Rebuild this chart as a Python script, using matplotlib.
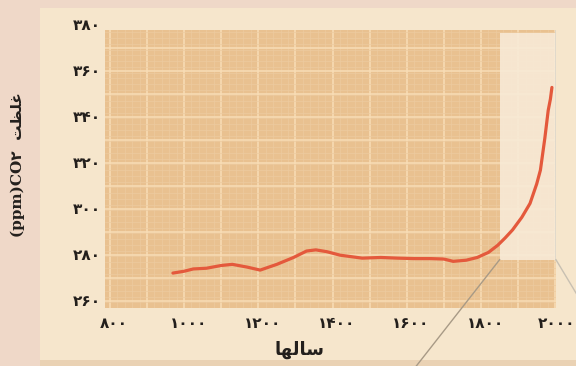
import numpy as np
import matplotlib
matplotlib.use("Agg")
import matplotlib.pyplot as plt
import matplotlib.transforms as mtransforms
from matplotlib.patches import Rectangle

# CO2 concentration (ppm) over the last millennium
years = [970, 1000, 1025, 1060, 1100, 1130, 1170, 1205, 1250, 1295, 1330, 1355,
         1385, 1420, 1480, 1530, 1575, 1620, 1665, 1700, 1725, 1760, 1790, 1820,
         1845, 1865, 1885, 1910, 1932, 1950, 1960, 1972, 1981, 1987, 1991]
ppm = [272.2, 273.0, 274.0, 274.3, 275.5, 276.0, 274.8, 273.5, 276.0, 279.0, 281.8, 282.3,
       281.5, 280.0, 278.7, 279.0, 278.7, 278.5, 278.5, 278.3, 277.3, 277.8, 279.0, 281.2,
       284.3, 287.5, 291.0, 296.5, 302.5, 311.0, 317.0, 331.0, 343.0, 348.0, 353.0]

x_ticks = [800, 1000, 1200, 1400, 1600, 1800, 2000]
y_ticks = [260, 280, 300, 320, 340, 360, 380]

# shaded "zoom" window over the industrial era and its callout lines
win_x = (1850, 2002)
win_y_low = 278
callout_left_end = (1624, 231.4)
callout_right_end = (2056, 263.5)

fa_digits = str.maketrans("0123456789", "۰۱۲۳۴۵۶۷۸۹")
def fa(n):
    return str(n).translate(fa_digits)

# Arabic presentation forms in visual (left-to-right) order
x_title = "\uFE8E\uFEEC\uFEDF\uFE8E\uFEB3"          # سالها
y_word = "\uFE96\uFEC8\uFEE0\uFECF"                  # غلظت

outer_bg = "#efd8c8"
panel_bg = "#f6e6cc"
orange = "#e9c190"
light = "#f8ebd8"
curve_col = "#e4593c"
ink = "#231f1c"

fig = plt.figure(figsize=(5.76, 3.66), dpi=100)
fig.patch.set_facecolor(outer_bg)
fig.patches.append(Rectangle((40 / 576, 0.0), 1 - 40 / 576, 1 - 8 / 366,
                             transform=fig.transFigure, facecolor=panel_bg,
                             edgecolor="none", zorder=-2))
fig.patches.append(Rectangle((40 / 576, 0.0), 1 - 40 / 576, 6 / 366,
                             transform=fig.transFigure, facecolor="#ead2b4",
                             edgecolor="none", zorder=-1))

ax = fig.add_axes([105 / 576, 1 - 308 / 366, 451 / 576, 278 / 366])
ax.set_facecolor(orange)

# grid
ax.set_xticks(np.arange(800, 2001, 100))
ax.set_yticks(np.arange(260, 381, 10))
ax.set_xticks(np.arange(800, 2001, 20), minor=True)
ax.set_yticks(np.arange(257, 380, 2.5), minor=True)
ax.grid(True, which="major", color="#f8ddb6", lw=1.1, zorder=1)
ax.grid(True, which="minor", color="#edcb9f", lw=0.5, zorder=1)
ax.set_axisbelow(True)
ax.set_xlim(787, 2002)
ax.set_ylim(257, 378)

# light window, drawn over the grid so that only a trace of it shows
ax.add_patch(Rectangle((win_x[0], win_y_low), win_x[1] - win_x[0], 376.5 - win_y_low,
                       facecolor=light, edgecolor="none", alpha=0.88, zorder=1.5))
ax.plot([win_x[1], win_x[1]], [win_y_low, 378], color="#dcd6ca", lw=1.2, zorder=1.6)

ax.plot([win_x[0], callout_left_end[0]], [win_y_low, callout_left_end[1]],
        color="#a89a86", lw=1.0, clip_on=False, zorder=2)
ax.plot([win_x[1], callout_right_end[0]], [win_y_low, callout_right_end[1]],
        color="#c8c0b2", lw=1.0, clip_on=False, zorder=2)

ax.plot(years, ppm, color=curve_col, lw=2.3, solid_capstyle="round",
        solid_joinstyle="round", zorder=3)

for s in ax.spines.values():
    s.set_visible(False)
ax.tick_params(which="both", length=0, labelleft=False, labelbottom=False)

# tick labels as text so the top value can sit just above the frame
lab_style = dict(fontsize=11, fontweight="bold", color=ink, clip_on=False)
ytrans = ax.get_yaxis_transform() + mtransforms.ScaledTranslation(-3 / 72, 0, fig.dpi_scale_trans)
for v in y_ticks:
    ax.text(0, v, fa(v), transform=ytrans, ha="right", va="center", **lab_style)
xtrans = ax.get_xaxis_transform() + mtransforms.ScaledTranslation(3 / 72, -6 / 72, fig.dpi_scale_trans)
for v in x_ticks[:-1]:
    ax.text(v, 0, fa(v), transform=xtrans, ha="center", va="top", **lab_style)
# last year label pinned against the right edge of the figure
ax.text(0.998, 0, fa(x_ticks[-1]),
        transform=mtransforms.blended_transform_factory(fig.transFigure, ax.transAxes)
        + mtransforms.ScaledTranslation(0, -6 / 72, fig.dpi_scale_trans),
        ha="right", va="top", **lab_style)

fig.text(300 / 576, 1 - 350 / 366, x_title, ha="center", va="center",
         fontsize=13, fontweight="bold", color=ink)
fig.text(18 / 576, 1 - 165 / 366, "(ppm)CO" + fa(2) + "  " + y_word, rotation=90,
         ha="center", va="center", fontsize=11, fontweight="bold", color=ink,
         family=["DejaVu Serif", "DejaVu Sans"])

fig.savefig("out.png", dpi=100, facecolor=fig.get_facecolor())
